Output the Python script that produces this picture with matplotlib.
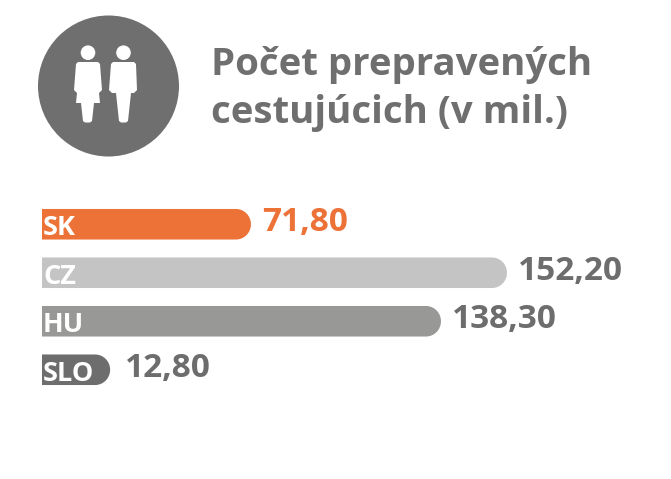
import matplotlib
matplotlib.use("Agg")
import matplotlib.pyplot as plt
from matplotlib.patches import Circle, Polygon, PathPatch
from matplotlib.path import Path

categories = ["SK", "CZ", "HU", "SLO"]
values = [71.80, 152.20, 138.30, 12.80]
# The drawn bars are not strictly proportional to their labels: lengths
bar_lengths = [68.4, 152.2, 130.6, 22.3]
bar_colors = ["#EC7238", "#C4C4C4", "#989896", "#6D6D6D"]
label_colors = ["#EC7238", "#6D6D6D", "#6D6D6D", "#6D6D6D"]
title_lines = ["Počet prepravených", "cestujúcich (v mil.)"]

W, H = 671, 479
GREY = "#6F6F6F"
FONT = "Open Sans"
PX = 3.055  # pixels per value unit

fig = plt.figure(figsize=(W / 100, H / 100), dpi=100, facecolor="white")

# pixel-space overlay for icon and title
ov = fig.add_axes([0, 0, 1, 1])
ov.set_xlim(0, W)
ov.set_ylim(H, 0)
ov.axis("off")
ov.add_patch(Circle((108.5, 86), 70.5, fc=GREY, ec="none"))
for cx in (88, 123.5):
    ov.add_patch(Circle((cx, 52.7), 7.3, fc="white", ec="none"))
ov.add_patch(Polygon([(78, 62), (98, 62), (100, 64), (102, 90), (99, 93), (100, 103),
                      (94, 103), (92, 121), (90, 122.5), (85, 122.5), (83, 121), (81, 103),
                      (76, 103), (77, 93), (74, 90), (76, 64)], fc="white", ec="none"))
ov.add_patch(Polygon([(113, 62), (134, 62), (136, 64), (137, 90), (134, 93), (131, 93),
                      (128, 121), (126, 122.5), (121, 122.5), (119, 121), (116, 93), (112, 93),
                      (109, 90), (111, 64)], fc="white", ec="none"))
for line, y in zip(title_lines, (65, 113)):
    ov.text(211, y, line, fontsize=27.6, fontweight="bold", family=FONT, color=GREY,
            va="center", ha="left")

# bar chart: axes spans four 48.5 px bands starting at y=200, from x=42
top, band = 200, 48.5
ax = fig.add_axes([42 / W, 1 - (top + 4 * band) / H, (W - 42) / W, 4 * band / H])
ax.set_xlim(0, (W - 42) / PX)
ax.set_ylim(3.5, -0.5)
ax.axis("off")
ax.patch.set_alpha(0)

bar_h = 0.63
K = 0.5523
for i, (cat, val, length, col, lcol) in enumerate(
        zip(categories, values, bar_lengths, bar_colors, label_colors)):
    y0, y1 = i - bar_h / 2, i + bar_h / 2
    rx = 15 / PX
    ry = bar_h / 2
    xs = length - rx
    verts = [(0, y0), (xs, y0),
             (xs + K * rx, y0), (length, i - K * ry), (length, i),
             (length, i + K * ry), (xs + K * rx, y1), (xs, y1),
             (0, y1), (0, y0)]
    codes = [Path.MOVETO, Path.LINETO,
             Path.CURVE4, Path.CURVE4, Path.CURVE4,
             Path.CURVE4, Path.CURVE4, Path.CURVE4,
             Path.LINETO, Path.CLOSEPOLY]
    ax.add_patch(PathPatch(Path(verts, codes), fc=col, ec="none"))
    ax.text(0.3, i + 0.08, cat, fontsize=19.5, fontweight="bold", family=FONT, color="white",
            va="center", ha="left")
    gap = 4.9 if cat == "SLO" else 3.7
    ax.text(length + gap, i - 0.03, f"{val:.2f}".replace(".", ","), fontsize=24,
            fontweight="bold", family=FONT, color=lcol, va="center", ha="left")

fig.savefig("out.png", dpi=100, facecolor="white")
